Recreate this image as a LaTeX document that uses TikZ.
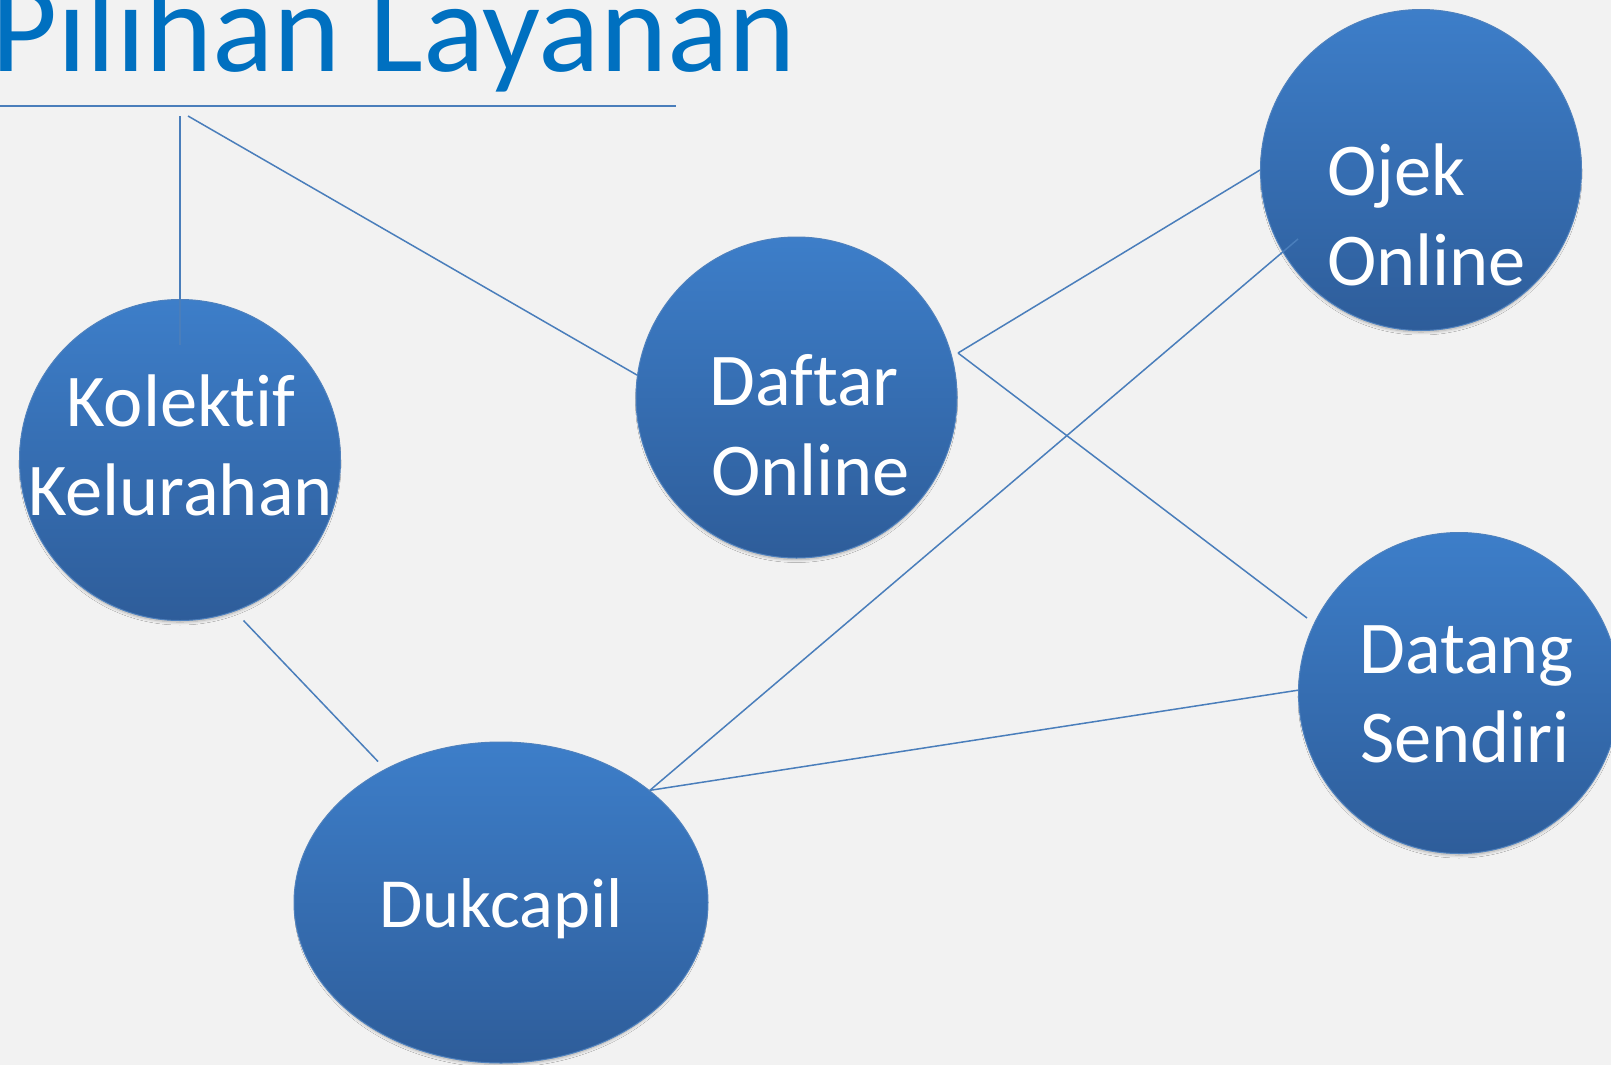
\documentclass[tikz,border=0pt]{standalone}
\usepackage{fontspec}
\setmainfont{Carlito}[Ligatures={NoCommon}]
\usetikzlibrary{shadows.blur}
\usetikzlibrary{shapes.geometric}
\definecolor{bgc}{RGB}{242,242,242}
\definecolor{titleblue}{RGB}{0,112,192}
\definecolor{linec}{RGB}{74,126,187}
\definecolor{topc}{RGB}{61,126,201}
\definecolor{botc}{RGB}{46,93,154}
\definecolor{edgec}{RGB}{79,129,189}
\tikzset{
  softshadow/.style={blur shadow={shadow xshift=0pt, shadow yshift=-4pt, shadow blur steps=8, shadow opacity=30, shadow blur radius=3pt, shadow scale=0.985}},
  bubble/.style={circle, minimum size=321pt, inner sep=0pt, draw=edgec, line width=1pt,
    top color=topc, bottom color=botc, softshadow},
  ovalbubble/.style={ellipse, minimum width=414pt, minimum height=321pt, inner sep=0pt, draw=edgec, line width=1pt,
    top color=topc, bottom color=botc, softshadow},
  btext/.style={text=white, font=\fontsize{74.5}{89}\selectfont, inner sep=0pt},
  conn/.style={draw=linec, line width=1.5pt},
}
\begin{document}
\begin{tikzpicture}[x=1pt,y=-1pt]
\fill[bgc] (0,0) rectangle (1611,1065);
\useasboundingbox (0,0) rectangle (1611,1065);
% title
\node[anchor=base west, inner sep=0pt, text=titleblue, font=\fontsize{128}{150}\selectfont] (title) at (-9,71) {Pilihan Layanan};
\coordinate (ulL) at (0,106);
\coordinate (ulR) at (676,106);
\draw[draw=linec, line width=2pt] (ulL) -- (ulR);
% bubbles
\node[bubble] (kol) at (180,460) {};
\node[bubble] (daf) at (796.5,397.5) {};
\node[bubble] (ojk) at (1421,170) {};
\node[bubble] (dat) at (1459,693) {};
\node[ovalbubble] (duk) at (501,902.5) {};
% texts
\node[btext, anchor=base] (kolA) at (181,426) {Kolektif};
\node[btext, anchor=base] (kolB) at (180.5,515) {Kelurahan};
\node[btext, anchor=base west] (dafA) at (709,405) {Daftar};
\node[btext, anchor=base west] (dafB) at (711,495) {Online};
\node[btext, anchor=base west] (ojkA) at (1327,195) {Ojek};
\node[btext, anchor=base west] (ojkB) at (1327,285) {Online};
\node[btext, anchor=base west] (datA) at (1359,673) {Datang};
\node[btext, anchor=base west] (datB) at (1360,762) {Sendiri};
\node[btext, anchor=base, font=\fontsize{70.5}{89}\selectfont] (dukA) at (501,927) {Dukcapil};
% connector ends
\coordinate (t1) at (180,116);
\coordinate (k1) at (180,345);
\coordinate (t2) at (188,116);
\coordinate (d1) at (958,353);
\coordinate (o1) at (1298,239);
\coordinate (s1) at (1307,618);
\coordinate (k2) at (243.5,620.5);
\coordinate (u1) at (378,761.5);
% connectors
\draw[conn] (t1) -- (k1);
\draw[conn] (t2) -- (daf.172.5);
\draw[conn] (d1) -- (ojk.180);
\draw[conn] (d1) -- (s1);
\draw[conn] (o1) -- (duk.37.5);
\draw[conn] (duk.37.5) -- (dat.179.3);
\draw[conn] (k2) -- (u1);
\end{tikzpicture}
\end{document}
